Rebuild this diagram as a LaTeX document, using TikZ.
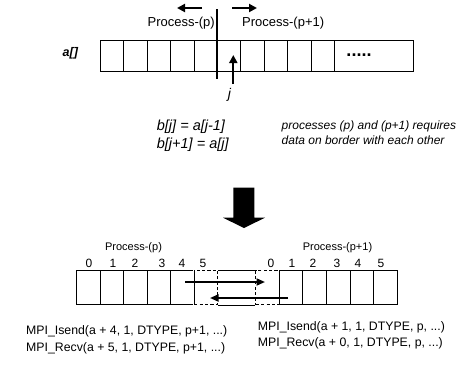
\documentclass[tikz,border=0pt]{standalone}
\usepackage{fontspec}
\setmainfont{Liberation Sans}
\usetikzlibrary{arrows.meta,positioning}

\tikzset{
  cell/.style={draw, line width=0.7pt, inner sep=0pt, minimum width=23.4pt, minimum height=31pt, anchor=north west},
  bcell/.style={cell, minimum width=23.55pt, minimum height=34pt},
  dcell/.style={bcell, preaction={draw=white, line width=1.8pt}, dash pattern=on 3.2pt off 2.2pt, line width=1pt},
  arr/.style={-{Triangle[length=8pt,width=8pt]}, line width=2.2pt},
  thinarr/.style={-{Triangle[length=8.5pt,width=7pt]}, line width=1.8pt},
  plbl/.style={font=\fontsize{13}{15}\selectfont, inner sep=0pt},
  slbl/.style={font=\fontsize{11}{12}\selectfont, inner sep=0pt},
  idx/.style={font=\fontsize{12}{14}\selectfont, inner sep=0pt, anchor=base},
  mpi/.style={font=\fontsize{12.3}{16.5}\selectfont, inner sep=0pt, align=left, anchor=base west},
}

\begin{document}
\begin{tikzpicture}[x=1pt, y=-1pt]
  \useasboundingbox (0,0) rectangle (475,365);

  % array a[] and the border between p and p+1
  \node[font=\fontsize{12.5}{14}\selectfont\bfseries\itshape, inner sep=0pt, anchor=base] (aname) at (70.3,56) {a[]};
  \foreach \i in {0,...,9}
    \node[cell] (t\i) at (100+23.4*\i,40) {};
  \node[cell, minimum width=79pt] (tdots) at (334,40) {};
  \node[font=\fontsize{18}{18}\selectfont\bfseries, inner sep=0pt, anchor=base] (dots) at (359,56) {.....};

  \coordinate (divtop) at (217,9);
  \coordinate (divbot) at (217,79);
  \draw[line width=2.4pt] (divtop) -- (divbot);
  \node[plbl, anchor=base east] (procp) at (215,26.5) {Process-(p)};
  \node[plbl, anchor=base west] (procq) at (242,26.5) {Process-(p+1)};
  \coordinate (lefttail) at (202,8);
  \coordinate (lefttip) at (177,8);
  \coordinate (righttail) at (232,8);
  \coordinate (righttip) at (257,8);
  \draw[arr] (lefttail) -- (lefttip);
  \draw[arr] (righttail) -- (righttip);

  \node[font=\fontsize{14}{14}\selectfont\itshape, inner sep=0pt, anchor=base] (jlbl) at (229.5,98) {j};
  \coordinate (jtail) at (233.3,84);
  \coordinate (jtip) at (233.3,55);
  \draw[arr] (jtail) -- (jtip);

  \node[font=\fontsize{14.5}{18}\selectfont\itshape, inner sep=0pt, align=left, anchor=base west] (eqs) at (156.7,148)
    {b[j] = a[j-1]\\b[j+1] = a[j]};
  \node[font=\fontsize{12}{15}\selectfont\itshape, inner sep=0pt, align=left, anchor=base west] (note) at (281.5,144.3)
    {processes (p) and (p+1) requires\\data on border with each other};

  % big arrow down
  \fill (233.3,187.7) -- (254.3,187.7) -- (254.3,217.7) -- (265,217.7)
    -- (244,228) -- (223,217.7) -- (233.3,217.7) -- cycle;

  % exchange of the border cells
  \foreach \i in {0,...,4}
    \node[bcell] (b\i) at (76+23.55*\i,270) {};
  \foreach \i in {1,...,5}
    \node[bcell] (r\i) at (255.3+23.57*\i,270) {};
  \node[dcell] (b5) at (76+23.55*5,270) {};
  \node[dcell] (r0) at (255.3,270) {};
  \draw[line width=0.7pt] (b5.north east) -- (r0.north west);
  \draw[line width=0.7pt] (b5.south east) -- (r0.south west);

  \foreach \i/\x in {0/89,1/113,2/135,3/162,4/182,5/203}
    \node[idx] (lb\i) at (\x,267.5) {\i};
  \foreach \i/\x in {0/271,1/292,2/313,3/337,4/358,5/381}
    \node[idx] (rb\i) at (\x,267.5) {\i};
  \node[slbl, anchor=base] (procbl) at (133.5,250) {Process-(p)};
  \node[slbl, anchor=base] (procbr) at (337.5,250) {Process-(p+1)};

  \coordinate (sendtail) at (185,282);
  \coordinate (sendtip) at (265,282);
  \coordinate (recvtail) at (288,298);
  \coordinate (recvtip) at (210,298);
  \draw[thinarr] (sendtail) -- (sendtip);
  \draw[thinarr] (recvtail) -- (recvtip);

  \node[mpi] (mpil) at (26,351)
    {MPI\_Isend(a + 4, 1, DTYPE, p+1, ...)\\MPI\_Recv(a + 5, 1, DTYPE, p+1, ...)};
  \node[mpi] (mpir) at (257.7,346.5)
    {MPI\_Isend(a + 1, 1, DTYPE, p, ...)\\MPI\_Recv(a + 0, 1, DTYPE, p, ...)};
\end{tikzpicture}
\end{document}
